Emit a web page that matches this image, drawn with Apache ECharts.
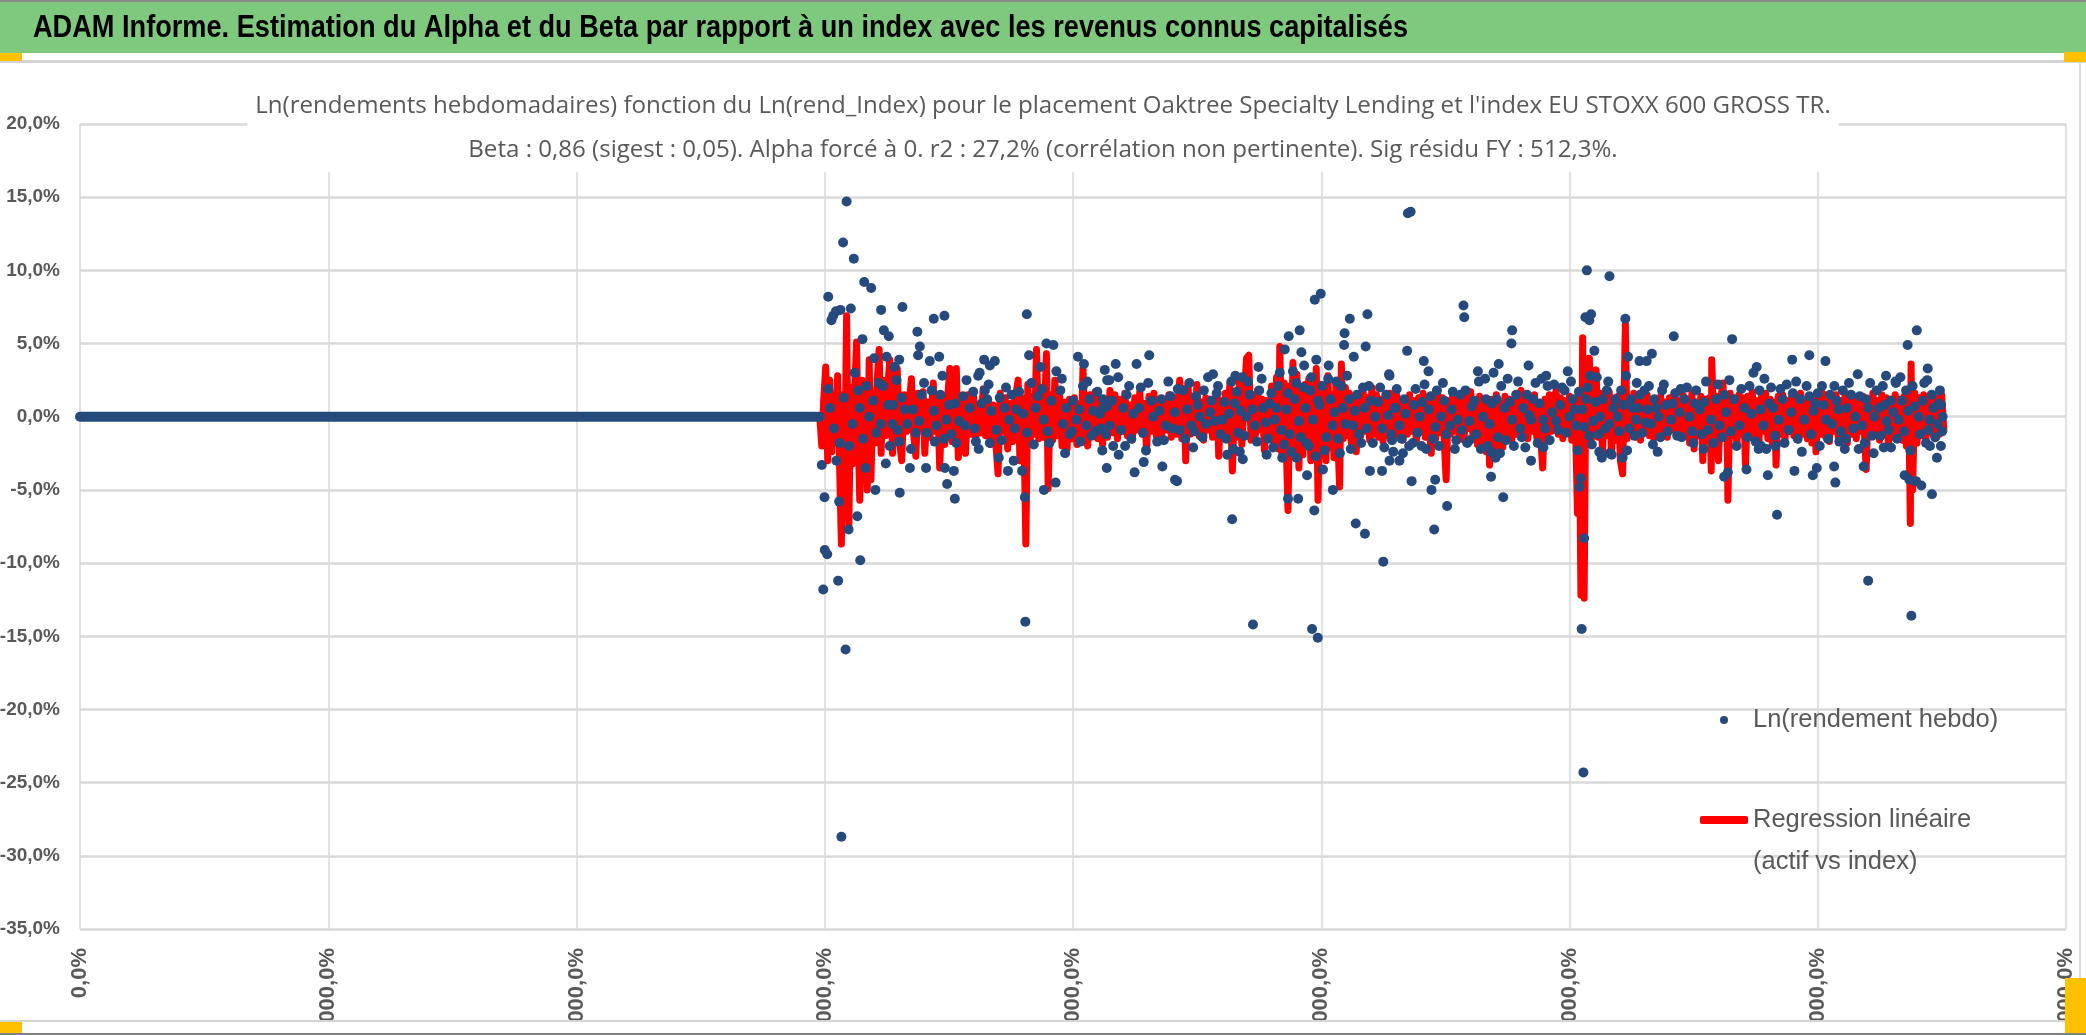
<!DOCTYPE html>
<html>
<head>
<meta charset="utf-8">
<script src="https://cdn.jsdelivr.net/npm/echarts@6/dist/echarts.min.js"></script>
<style>
  html, body { margin: 0; padding: 0; background: #fff; }
  #chart { width: 2086px; height: 1035px; }
</style>
</head>
<body>
<div id="chart"></div>
<script>
const SANS = "'Liberation Sans', Arial, sans-serif"
const OPEN = "'Open Sans', 'Noto Sans', sans-serif"

const headerText = 'ADAM Informe. Estimation du Alpha et du Beta par rapport à un index avec les revenus connus capitalisés'
const titleLines = [
  "Ln(rendements hebdomadaires) fonction du Ln(rend_Index) pour le placement Oaktree Specialty Lending et l'index EU STOXX 600 GROSS TR.",
  'Beta : 0,86 (sigest : 0,05). Alpha forcé à 0. r2 : 27,2% (corrélation non pertinente). Sig résidu FY : 512,3%.'
]
const scatterName = 'Ln(rendement hebdo)'
const lineName = 'Regression linéaire\n(actif vs index)'

// x tick labels (one per vertical gridline)
const xTickLabels = ['0,0%', '1000000,0%', '2000000,0%', '3000000,0%', '4000000,0%',
  '5000000,0%', '6000000,0%', '7000000,0%', '8000000,0%']

// weeks without data sit on 0
const flatRun = [[0, 0], [298, 0]]

// Ln(rendement hebdo) points, [x, y%]
const weeklyLnReturns = [
  [298.8,-3.3],[299.9,-5.5],[304.7,-3.0],[305.8,-5.8],[300.0,-9.1],[301.0,-9.4],[299.4,-11.8],[305.4,-11.2],[314.3,-9.8],[308.4,-15.9],
  [306.7,-28.7],[309.6,-7.7],[313.1,-6.8],[316.4,-3.5],[320.4,-5.0],[330.2,-5.2],[324.6,-3.2],[334.3,-3.5],[340.8,-3.5],[349.3,-4.6],
  [352.4,-5.6],[348.4,-3.5],[352.0,-3.7],[362.0,-2.2],[366.5,-1.8],[370.1,-2.8],[373.8,-3.7],[376.1,-3.0],[379.5,-3.7],[380.6,-5.5],
  [380.8,-14.0],[388.3,-5.0],[393.0,-4.5],[396.8,-2.5],[411.8,-2.3],[413.6,-3.5],
  [308.8,14.7],[307.4,11.9],[311.7,10.8],[315.9,9.2],[318.7,8.8],[301.4,8.2],[302.7,6.6],[303.4,6.9],[304.5,7.2],[306.3,7.3],
  [310.5,7.4],[322.7,7.3],[331.3,7.5],[381.4,7.0],[382.3,4.2],[389.3,5.0],[392.1,4.9],[364.2,3.9],[368.5,3.8],[362.4,3.0],
  [366.5,3.5],[402.0,4.1],[404.4,3.6],[412.8,3.2],[413.8,2.5],[319.9,4.0],[324.9,4.1],[330.0,3.9],[328.1,3.4],[323.8,5.9],
  [325.8,5.5],[315.2,5.3],[337.3,5.8],[338.3,4.8],[343.9,6.7],[348.2,6.9],[346.1,4.1],[342.3,3.8],[337.6,4.2],
  [301.4,1.9],[307.7,1.3],[303.7,-0.8],[311.2,-0.5],[309.8,-2.0],[313.5,1.8],[312.1,3.0],[317.9,0.0],[319.5,1.1],[320.8,-1.1],
  [322.5,-0.5],[321.8,2.3],[323.5,2.1],[325.5,0.8],[327.3,-0.5],[328.9,2.5],[327.6,0.8],[326.2,-2.0],[330.0,-1.7],[332.2,0.5],
  [333.2,-0.5],[334.7,-2.2],[336.7,-1.1],[335.6,0.5],[339.0,1.5],[340.0,2.3],[341.2,-1.1],[343.0,1.8],[344.3,-1.7],[345.0,-0.6],
  [347.4,2.8],[346.6,1.5],[348.1,-1.5],[349.0,-0.2],[350.1,0.8],[351.0,-1.2],[353.0,-1.8],[354.1,-0.3],[355.7,1.4],[357.1,2.5],
  [358.4,0.6],[359.8,1.7],[360.4,-0.8],[361.8,2.8],[363.1,0.9],[364.5,1.8],[365.4,1.2],[367.1,0.4],[369.2,-0.9],[370.5,1.3],
  [372.5,0.6],[374.3,-0.2],[375.2,1.5],[377.2,0.5],[378.3,1.7],[379.9,0.2],[383.2,2.3],[385.0,0.6],[385.9,1.4],[386.9,3.4],
  [388.2,-0.2],[389.8,-1.0],[391.3,1.1],[393.3,3.1],[394.9,1.8],[396.0,-0.5],[397.3,0.6],[398.7,-1.2],[400.0,1.1],[401.4,-0.2],
  [403.0,-1.7],[404.0,2.1],[405.4,-0.6],[406.7,1.2],[408.1,0.4],[409.1,-1.0],[410.8,0.2],[412.1,1.2],[413.7,0.7],
  [302.1,0.6],[306.1,-1.8],[314.1,0.6],[315.5,-1.5],[316.8,2.1],[329.4,-0.9],[331.0,1.3],[338.0,-0.3],[344.0,0.4],[352.5,0.9],
  [356.5,-0.6],[360.9,-1.7],[366.0,2.2],[371.3,-1.6],[373.0,2.0],[376.5,-0.8],[381.5,-1.1],[384.2,-1.9],[387.5,1.9],[390.5,-1.8],
  [395.5,2.6],[399.5,-1.0],[402.5,0.5],[405.8,2.4],[407.5,-1.3],[409.8,1.7],[411.2,-0.8],
  [417.2,3.6],[425.6,3.6],[430.7,4.2],[497.4,8.0],[499.8,8.4],[511.5,6.7],[518.6,7.0],[509.2,4.9],[509.4,5.7],[486.9,5.5],
  [491.3,5.9],[485.3,4.6],[492.0,4.4],[488.6,3.1],[493.1,3.5],[498.0,3.9],[503.0,3.5],[513.1,4.1],[517.9,4.8],[527.3,2.9],
  [474.7,3.4],[456.4,2.9],[465.4,2.8],[414.6,2.5],
  [424.8,-3.8],[436.0,-3.4],[441.1,-4.3],[441.9,-4.4],[464.1,-7.0],[472.5,-14.2],[496.3,-14.5],[498.6,-15.1],[486.6,-5.6],[490.7,-5.6],
  [497.2,-6.4],[504.7,-5.0],[513.9,-7.3],[517.6,-8.0],[525.0,-9.9],[519.6,-3.7],[524.5,-3.7],[494.3,-4.0],[500.7,-3.6],[478.0,-2.6],
  [484.3,-2.8],[490.0,-2.8],[468.4,-2.9],[462.1,-2.6],[418.4,-2.6],[416.2,-2.0],[421.0,-2.0],[428.5,-3.1],[448.4,-2.1],[452.1,-1.4],
  [467.2,-2.4],
  [412.1,0.6],[414.8,-0.6],[418.2,2.7],[420.2,0.6],[422.6,2.1],[423.5,-1.5],[426.6,0.6],[428.2,-1.1],[430.3,2.3],[432.3,0.0],
  [433.9,-1.7],[435.6,1.2],[437.4,-0.6],[439.3,1.4],[441.0,0.3],[443.0,-0.9],[444.4,1.8],[446.0,0.5],[447.7,-0.6],[449.5,1.4],
  [451.1,0.0],[452.7,1.8],[454.4,2.7],[455.8,1.1],[457.1,-0.3],[458.4,2.1],[460.2,-0.2],[461.8,-1.5],[463.8,2.4],[465.2,0.9],
  [466.5,-1.1],[468.2,2.7],[469.9,0.0],[471.2,1.5],[473.2,-0.6],[475.0,1.8],[476.6,0.6],[478.6,-1.5],[479.9,1.6],[481.3,-0.2],
  [482.6,2.1],[483.9,-0.9],[486.0,0.5],[487.3,-1.2],[489.3,1.2],[491.0,-0.3],[492.9,2.0],[494.0,-1.8],[495.6,1.8],[496.7,-0.2],
  [498.7,1.1],[500.4,2.1],[502.1,-1.4],[503.7,1.2],[505.4,0.3],[506.8,-1.5],[508.1,2.1],[509.8,-0.5],[511.2,1.2],[512.8,-0.6],
  [514.4,1.5],[516.1,-1.8],[517.5,0.6],[519.2,2.1],[520.8,-1.8],[522.9,1.0],[524.6,-0.8],[526.2,1.5],[528.2,-1.2],[530.0,0.6],
  [413.3,-1.2],[415.7,1.1],[419.4,-0.9],[421.6,1.5],[424.3,0.2],[427.3,2.0],[429.4,-2.3],[431.6,1.1],[434.8,0.4],[436.6,-1.6],
  [438.4,2.4],[440.1,-0.8],[442.2,1.9],[445.2,-1.5],[446.9,2.3],[448.9,-1.0],[450.3,0.8],[453.5,-0.5],[455.2,0.3],[457.9,1.6],
  [459.4,-1.2],[461.0,1.0],[462.9,0.2],[464.6,-2.2],[466.0,1.7],[467.5,0.4],[469.1,-1.3],[470.5,2.4],[472.3,0.5],[474.1,-1.7],
  [476.0,2.6],[477.6,-0.4],[479.2,0.9],[480.6,-2.1],[482.0,0.6],[483.3,3.0],[485.0,-1.9],[486.5,1.6],[488.0,-2.4],[489.9,2.3],
  [491.7,-1.4],[493.6,0.6],[495.0,-2.0],[496.0,2.7],[497.8,-2.7],[499.3,0.8],[501.4,-2.3],[502.8,2.6],[504.5,-0.6],[506.1,2.4],
  [507.5,-2.5],[508.8,0.6],[510.4,2.8],[511.9,-2.2],[513.5,0.4],[515.2,-1.2],[516.8,2.0],[518.3,-0.8],[520.0,1.1],[521.8,0.0],
  [523.7,2.0],[525.4,-2.1],[527.0,0.1],[529.0,-2.4],
  [534.9,13.9],[536.0,14.0],[557.3,7.6],[557.6,6.8],[576.9,5.9],[576.6,5.0],[534.6,4.5],[607.0,10.0],[616.1,9.6],[606.4,6.8],
  [608.0,6.6],[608.7,7.0],[622.5,6.7],[642.0,5.5],[610.0,4.5],[623.6,4.1],[633.2,4.3],[628.2,3.8],[631.1,3.8],[541.3,3.8],
  [543.2,3.1],[563.1,3.1],[571.5,3.6],[583.5,3.5],[590.6,2.8],[599.3,3.1],[627.1,2.3],[527.5,2.8],
  [536.4,-4.4],[544.4,-5.0],[545.9,-4.3],[545.5,-7.7],[550.7,-6.1],[568.4,-4.1],[573.3,-5.5],[604.9,-14.5],[605.6,-24.3],[605.9,-8.3],
  [604.0,-4.8],[604.5,-4.2],[603.3,-2.3],[584.5,-3.0],[589.5,-2.1],[635.5,-2.4],[527.5,-3.0],[531.5,-3.0],[532.9,-2.5],[536.9,-1.8],
  [540.4,-2.0],[553.8,-2.2],[568.4,-2.4],[570.2,-2.8],[612.0,-2.4],[616.1,-2.5],[621.4,-2.8],[608.0,-1.3],[559.7,-1.6],
  [529.5,0.6],[531.5,-0.6],[533.5,1.2],[538.0,1.9],[539.6,0.0],[541.6,2.2],[543.3,0.5],[545.0,-1.5],[546.6,1.8],[548.3,0.0],
  [549.6,1.1],[551.9,-0.6],[553.0,1.7],[555.0,-0.2],[556.0,1.5],[558.1,1.8],[559.7,-0.3],[561.7,1.1],[563.5,2.4],[565.1,0.0],
  [566.4,1.2],[567.8,-0.5],[569.4,3.0],[570.7,1.2],[572.5,2.1],[573.8,0.6],[575.1,2.6],[576.9,-0.2],[578.5,1.5],[580.1,-0.8],
  [581.4,0.6],[582.9,1.5],[584.5,-0.2],[586.3,2.3],[587.9,0.9],[589.5,-0.2],[591.2,2.1],[593.0,0.3],[594.6,-0.3],[596.2,0.8],
  [598.0,1.8],[600.0,0.0],[601.3,1.2],[602.7,-0.6],[605.1,0.5],[606.7,1.2],[608.3,2.8],[609.6,-0.3],[611.0,2.7],[612.3,0.0],
  [613.4,1.2],[615.0,1.8],[616.1,-0.5],[617.7,0.6],[619.4,0.0],[620.8,1.8],[622.8,2.8],[624.1,-0.8],[625.5,0.6],[626.8,-0.2],
  [628.4,1.5],[630.2,1.8],[631.5,0.5],[632.8,-0.5],[634.2,1.2],[635.9,0.0],[637.3,1.8],[638.9,0.8],[640.9,-0.2],[642.6,1.6],
  [644.3,0.3],
  [528.5,-1.6],[530.4,1.9],[532.4,-1.5],[534.0,0.2],[535.4,-2.0],[537.3,0.8],[538.8,-1.1],[540.7,1.0],[542.3,-2.2],[544.1,1.4],
  [546.0,-0.7],[547.5,-2.0],[549.0,2.3],[550.4,-1.2],[552.5,0.5],[554.4,-1.6],[556.6,-0.9],[558.8,-1.8],[560.6,0.7],[562.4,-1.2],
  [564.3,-2.2],[566.0,2.6],[567.0,-2.0],[568.8,0.9],[571.2,-1.4],[572.0,-2.5],[574.4,-1.6],[575.9,1.0],[577.6,-2.0],[579.3,2.4],
  [580.8,-1.4],[582.2,-2.1],[583.8,0.1],[585.4,1.2],[587.2,-1.8],[588.7,2.6],[590.2,-0.8],[592.0,-1.6],[593.8,2.2],[595.4,-0.9],
  [597.0,2.0],[598.8,-1.1],[600.6,2.4],[602.0,0.5],[603.8,1.7],[606.0,-0.7],[607.3,2.0],[609.0,-1.9],[610.5,1.0],[611.8,-1.2],
  [613.0,-2.8],[614.4,-0.8],[615.6,2.4],[617.0,-2.6],[618.5,1.2],[620.0,-1.0],[621.8,0.8],[623.2,-2.3],[624.8,1.2],[626.1,-1.3],
  [627.6,0.6],[629.3,-1.1],[630.7,-0.4],[632.0,2.1],[633.6,-1.9],[635.0,0.6],[636.6,-1.4],[638.0,2.2],[639.6,-1.0],[641.6,0.9],
  [643.4,-1.3],
  [665.5,5.3],[689.7,3.9],[696.6,4.2],[703.1,3.8],[736.2,4.9],[739.9,5.9],[744.3,3.3],[744.1,2.5],[716.1,2.9],[675.4,3.4],
  [678.5,2.6],[727.5,2.8],[731.5,2.3],[644.8,1.9],[749.2,1.8],
  [683.6,-6.7],[720.3,-11.2],[737.7,-13.6],[746.0,-5.3],[748.0,-2.8],[749.6,-2.0],[735.0,-4.0],[736.9,-4.3],[739.6,-4.4],[741.7,-4.7],
  [662.3,-4.1],[663.8,-3.8],[671.3,-3.6],[679.9,-4.0],[690.6,-3.7],[698.0,-4.0],[699.6,-3.5],[706.6,-3.4],[707.1,-4.5],[718.5,-3.4],
  [654.0,-2.2],[649.4,-1.0],[683.0,-2.0],[676.2,-2.2],[677.2,-2.0],[708.7,-1.7],[711.4,-1.5],[716.5,-2.2],[722.5,-2.5],[726.6,-2.1],
  [729.5,-2.1],[743.6,-1.8],[745.2,-2.0],
  [646.3,1.2],[648.3,0.0],[651.0,1.8],[652.4,0.5],[655.0,2.4],[657.0,-0.2],[659.1,1.2],[660.4,-0.6],[662.4,1.5],[664.4,2.5],
  [666.4,1.2],[668.5,-0.6],[670.5,0.6],[672.5,2.1],[674.1,3.0],[676.5,1.8],[678.1,-0.6],[680.5,0.9],[682.1,0.6],[684.3,-0.2],
  [685.9,1.2],[687.5,2.2],[689.3,0.3],[691.3,2.4],[692.9,1.2],[694.6,-0.2],[696.6,1.4],[698.3,0.4],[700.0,1.6],[701.7,2.1],
  [703.3,-0.2],[705.0,1.5],[706.7,2.1],[708.4,0.5],[710.1,1.8],[711.7,0.6],[713.4,1.5],[715.2,0.0],[717.8,-0.6],[719.5,1.2],
  [721.1,2.3],[722.8,0.0],[724.6,0.6],[726.2,2.1],[727.8,-0.3],[729.4,1.1],[731.3,2.4],[732.6,-0.2],[734.0,1.1],[735.6,1.8],
  [738.2,2.1],[740.7,0.0],[742.3,1.1],[745.0,-0.2],[746.6,0.6],[748.3,-0.5],[750.3,0.0],
  [645.2,-1.4],[647.3,2.0],[649.9,-1.8],[650.5,0.9],[653.2,-1.2],[654.3,1.0],[655.8,-0.9],[658.0,-1.8],[659.8,2.2],[661.5,-1.4],
  [663.1,0.3],[665.0,-1.0],[667.3,-2.0],[669.2,1.9],[671.7,-1.4],[673.3,0.2],[675.0,-1.7],[677.0,0.5],[679.3,-2.2],[681.2,2.0],
  [682.8,-1.3],[685.0,1.9],[686.6,-1.8],[688.3,-0.9],[690.0,1.6],[691.9,-1.5],[693.6,-2.4],[695.5,2.1],[697.3,-1.2],[699.0,0.9],
  [700.8,-2.0],[702.4,0.8],[704.1,-1.5],[705.8,-0.5],[707.6,1.1],[709.3,-1.0],[710.9,-2.2],[712.6,2.3],[714.3,-0.8],[716.9,1.4],
  [718.9,-1.8],[720.3,0.6],[721.9,-1.3],[723.7,1.8],[725.4,-1.3],[727.0,0.8],[728.6,-0.9],[730.4,0.3],[732.0,-1.5],[733.3,2.7],
  [734.8,-1.0],[736.4,0.4],[737.3,-2.3],[739.0,0.7],[741.2,-1.2],[742.9,2.3],[744.5,-0.9],[745.9,1.5],[747.3,-1.4],[748.8,0.9],
  [750.1,-1.0],[749.7,0.8]
]

// Regression line (beta x index return), [x, y%], in x order
const regressionLine = [
  [298.0,0],[298.8,-2.0],[299.6,1.2],[300.4,3.4],[301.2,-3.0],[302.0,2.5],[302.8,-2.4],[303.6,1.5],[304.4,-1.8],[305.2,2.8],
  [306.0,-3.5],[306.7,-8.7],[307.5,1.5],[308.2,-2.0],[308.8,6.9],[309.7,-7.5],[310.5,2.0],[311.3,-3.2],[312.0,1.4],[312.8,5.1],
  [313.5,-1.5],[314.1,-5.7],[315.0,2.5],[315.8,-1.2],[316.5,1.8],[317.1,-5.0],[317.9,3.9],[318.6,-4.3],[319.4,1.0],[320.2,-1.8],
  [321.0,2.1],[321.9,4.6],[322.7,-2.5],[323.5,2.5],[324.4,-1.3],[325.2,1.6],[326.2,3.9],[327.3,-2.5],[328.2,1.2],[329.2,3.3],
  [330.1,-1.6],[331.0,-3.0],[332.0,1.5],[333.0,-1.0],[334.0,0.8],[334.9,2.6],[335.8,-1.2],[336.7,-2.7],[337.7,1.6],[338.7,-0.8],
  [339.6,1.7],[340.3,-2.5],[341.3,1.0],[342.4,-1.4],[343.7,2.3],[344.6,-1.0],[345.5,1.2],[346.3,-3.5],[347.3,1.3],[348.3,-1.9],
  [349.3,0.9],[350.4,3.3],[351.3,-1.7],[352.2,1.1],[353.0,3.3],[353.8,-2.8],[354.8,1.4],[355.8,-0.9],[356.7,-2.5],[357.7,1.5],
  [358.7,-1.2],[359.8,1.8],[360.8,-1.6],[361.8,0.7],[362.8,-1.1],[363.8,1.9],[364.8,-1.3],[365.8,1.2],[366.8,-1.9],[367.8,0.8],
  [368.8,-1.5],[369.8,-3.9],[370.7,1.6],[371.7,-1.0],[372.7,1.3],[373.7,-2.2],[374.7,0.9],[375.7,-1.7],[376.7,1.2],[377.9,2.5],
  [378.6,-3.0],[379.5,1.3],[380.3,-1.5],[381.0,-8.7],[381.8,2.2],[382.7,-1.8],[383.6,1.4],[384.5,-1.2],[385.3,4.6],[386.2,-1.5],
  [387.1,2.0],[388.0,-1.4],[388.7,1.2],[389.3,4.3],[390.0,-4.9],[390.9,1.5],[391.8,-1.6],[392.7,2.5],[393.6,-1.3],[394.6,1.4],
  [395.6,-2.0],[396.6,1.0],[397.6,-2.2],[398.6,1.2],[399.6,-1.5],[400.6,1.3],[401.6,-1.9],[402.6,0.9],[403.4,-1.7],[404.0,3.3],
  [404.9,-1.4],[405.9,-2.0],[406.9,1.5],[407.9,-1.2],[408.9,1.7],[409.9,-1.5],[410.9,1.2],[411.9,-1.9],[412.9,1.0],
  [413.9,-1.4],[414.9,1.8],[415.9,-1.1],[416.9,1.5],[417.9,-1.5],[418.9,1.2],[419.9,-1.0],[420.9,1.6],[421.9,-1.3],[422.9,0.8],
  [423.9,-1.6],[424.9,1.3],[425.9,-0.9],[426.9,1.7],[427.9,-1.2],[428.9,0.9],[429.6,-2.4],[430.6,1.4],[431.6,-1.0],[432.6,1.6],
  [433.6,-1.3],[434.6,0.9],[435.6,-1.6],[436.6,1.2],[437.6,-0.9],[438.6,1.5],[439.6,-1.4],[440.6,1.1],[441.6,-1.2],[442.3,1.0],
  [443.0,2.5],[443.8,-1.5],[444.6,1.9],[445.4,-3.0],[446.3,2.3],[447.2,-1.2],[448.1,1.4],[449.0,-1.0],[449.9,2.2],[450.8,-1.3],
  [451.7,1.0],[452.6,-1.6],[453.5,1.3],[454.4,-0.9],[455.3,1.2],[456.2,-1.4],[457.1,0.8],[458.0,1.4],[458.7,-2.7],[459.6,1.1],
  [460.5,-1.3],[461.4,1.6],[462.3,-1.1],[463.2,2.3],[464.2,-3.7],[465.1,1.2],[466.0,-1.4],[467.0,2.4],[468.0,-1.9],[469.0,1.3],
  [469.9,4.0],[470.8,4.2],[471.7,-1.6],[472.6,1.5],[473.5,-1.2],[474.4,1.8],[475.3,-0.9],[476.2,1.2],[477.1,-2.3],[478.0,1.1],
  [479.0,-1.5],[480.0,2.1],[481.0,-1.8],[482.0,2.7],[482.8,-2.2],[483.3,4.8],[484.2,-2.7],[485.1,2.3],[485.9,-2.0],[486.6,-6.4],
  [487.4,2.1],[488.0,-1.7],[488.6,3.7],[489.4,-2.0],[490.2,2.9],[491.0,-3.5],[491.8,1.7],[492.6,-2.6],[493.4,2.2],[494.2,-1.8],
  [495.0,2.6],[495.8,-3.0],[496.6,1.6],[497.4,-2.4],[498.0,3.3],[498.7,-5.7],[499.5,2.2],[500.3,-2.6],[501.1,1.6],[501.9,-3.0],
  [502.7,2.8],[503.5,-2.1],[504.3,1.5],[505.1,-2.8],[505.9,2.2],[506.7,-1.6],[507.4,-4.8],[508.1,3.6],[508.9,-1.5],[509.7,2.0],
  [510.5,-1.3],[511.3,1.6],[512.1,-1.8],[512.9,1.2],[513.7,-1.1],[514.1,-2.4],[515.0,1.5],[515.9,-1.3],[516.8,1.9],[517.7,-1.0],
  [518.6,1.3],[519.5,-1.6],[520.4,2.0],[521.3,-1.2],[522.2,1.5],[523.1,-1.4],[524.0,1.2],[524.9,-1.7],[525.8,1.0],[526.7,-1.3],
  [527.6,1.6],[528.5,-1.2],
  [529.4,1.0],[530.2,1.8],[531.1,-1.3],[532.0,1.2],[532.9,-1.6],[533.8,0.9],[534.7,-1.2],[535.6,1.5],[536.5,-1.0],[537.4,1.1],
  [538.3,-1.7],[539.2,1.3],[540.1,-0.9],[541.0,1.6],[541.9,-1.4],[542.8,1.0],[543.7,-1.2],[544.3,-2.5],[545.2,1.2],[546.1,-1.5],
  [547.0,1.5],[547.9,-1.1],[548.8,1.3],[549.6,-1.8],[550.3,-4.3],[551.2,1.1],[552.1,-1.2],[553.0,1.6],[553.9,-1.0],[554.8,1.2],
  [555.7,-1.5],[556.6,1.0],[557.5,-1.6],[558.4,1.3],[559.3,-0.8],[560.2,1.7],[561.1,-1.3],[562.0,1.1],[562.9,-1.9],[563.8,1.4],
  [564.7,-2.1],[565.6,1.2],[566.5,-2.4],[567.2,1.0],[567.8,-3.3],[568.7,1.2],[569.6,-2.6],[570.5,1.5],[571.4,-2.2],[572.3,0.9],
  [573.1,-2.1],[574.0,1.4],[574.9,-1.1],[575.8,1.2],[576.7,-1.6],[577.6,1.0],[578.5,-1.2],[579.4,1.4],[580.5,1.8],[581.4,-1.2],
  [582.3,1.0],[583.2,-1.5],[584.1,1.3],[585.0,-1.0],[585.9,1.5],[586.8,-1.4],[587.7,0.9],[588.5,-1.7],[589.2,-3.5],[590.1,1.2],
  [591.0,-1.3],[591.9,1.5],[592.8,-1.0],[593.7,1.1],[594.6,1.8],[595.5,-1.2],[596.4,1.3],[597.3,-1.5],[598.2,1.1],[599.1,-1.0],
  [600.0,1.4],[600.9,-1.6],[601.8,0.9],[602.6,-1.8],[603.2,-6.6],[603.9,1.5],[604.6,-12.2],[605.3,5.4],[605.9,-12.4],[606.6,3.2],
  [607.3,-1.5],[608.0,4.0],[608.8,-1.6],[609.6,2.0],[610.7,3.2],[611.5,-1.4],[612.4,1.6],[613.3,-2.4],[614.2,1.5],[615.1,-1.3],
  [616.0,1.7],[616.9,-2.5],[617.8,1.2],[618.7,-1.6],[619.6,1.4],[620.5,-3.0],[621.4,-3.9],[622.0,1.5],[622.5,6.3],[623.2,-1.5],
  [624.1,1.3],[625.0,-1.2],[625.9,1.6],[626.8,-1.4],[627.7,1.2],[628.6,-1.6],[629.5,1.0],[630.4,-1.1],[631.3,1.5],[632.2,-1.3],
  [633.1,0.8],[634.0,-1.5],[634.9,1.2],[635.8,-1.0],[636.7,1.4],[637.6,-1.2],[638.5,1.0],[639.4,-1.4],[640.3,1.3],[641.2,-0.9],
  [642.1,1.6],[643.0,-1.3],[643.9,1.1],
  [644.8,-1.4],[645.7,1.5],[646.6,-1.1],[647.5,1.2],[648.4,-1.8],[649.3,1.6],[650.2,-2.2],[651.1,1.0],[652.0,-1.3],[652.9,1.4],
  [653.7,-3.0],[654.6,1.2],[655.5,-1.6],[656.4,1.3],[657.1,-3.7],[657.3,3.9],[658.2,-1.2],[659.1,1.4],[660.0,-3.0],[660.9,1.1],
  [661.8,2.3],[662.7,-1.5],[663.4,1.3],[663.8,-5.7],[664.7,1.6],[665.6,-1.3],[666.5,1.2],[667.4,-2.0],[668.3,1.5],[669.2,-1.2],
  [670.1,1.3],[670.9,-3.3],[671.8,1.4],[672.7,-1.1],[673.6,1.7],[674.5,-1.4],[675.4,1.1],[676.3,-1.8],[677.2,1.3],[678.1,-1.0],
  [679.0,1.6],[679.9,-1.5],[680.8,1.2],[681.7,-1.9],[682.6,1.0],[683.2,-3.3],[684.1,1.4],[685.0,-1.2],[685.9,1.5],[686.8,-1.6],
  [687.7,1.1],[688.6,-1.0],[689.5,1.4],[690.4,-1.3],[691.3,1.2],[692.2,-1.6],[693.1,1.6],[694.0,-1.2],[694.9,1.0],[695.8,-1.5],
  [696.7,1.3],[697.6,-1.8],[698.5,1.1],[699.3,-2.4],[700.2,1.4],[701.1,-1.2],[702.0,1.6],[702.9,-1.3],[703.8,1.0],[704.7,-1.7],
  [705.6,1.3],[706.5,-1.0],[707.4,1.5],[708.3,-1.5],[709.2,1.1],[710.1,-1.3],[711.0,1.4],[711.9,-1.8],[712.8,1.0],[713.7,-1.2],
  [714.6,1.3],[715.5,-1.5],[716.4,1.2],[717.3,-1.0],[718.2,1.4],[719.0,-1.8],[719.5,-3.6],[720.4,1.0],[721.3,-1.3],[722.2,1.6],
  [723.1,-1.2],[724.0,1.1],[724.9,-1.6],[725.8,1.5],[726.7,-1.1],[727.6,1.3],[728.5,-1.9],[729.4,1.2],[730.3,-1.4],[731.2,1.5],
  [732.1,-1.0],[733.0,1.2],[733.9,-1.6],[734.8,1.4],[735.7,-2.0],[736.6,1.8],[737.3,-7.3],[737.6,3.6],[738.2,-5.0],[739.1,1.6],
  [740.0,-1.8],[740.9,1.3],[741.8,-1.3],[742.7,1.5],[743.6,-1.6],[744.5,1.2],[745.4,-1.1],[746.3,1.4],[747.2,-1.5],[748.1,1.3],
  [749.0,-1.2],[749.9,1.5],[750.8,-0.9]
]

const BLUE = '#264a7e'
const RED = '#ff0000'
const GREY_TXT = '#595959'
const GRID_COLOR = '#d9d9d9'

const pct = (v) => v.toFixed(1).replace('.', ',') + '%'

// squeeze the header so it spans the same width as the original banner
const headerFont = 'bold 32px ' + SANS
const measureCtx = document.createElement('canvas').getContext('2d')
measureCtx.font = headerFont
const headerScale = 1375 / measureCtx.measureText(headerText).width

const chart = echarts.init(document.getElementById('chart'), null, { renderer: 'canvas' })

const option = {
  animation: false,
  backgroundColor: '#ffffff',
  title: {
    text: titleLines.join('\n'),
    left: 'center',
    top: 84,
    padding: [0, 8, 0, 8],
    backgroundColor: '#ffffff',
    textStyle: {
      fontFamily: OPEN,
      fontSize: 24.1,
      fontWeight: 'normal',
      color: GREY_TXT,
      lineHeight: 44
    }
  },
  legend: [
    {
      data: [{ name: scatterName, icon: 'circle' }],
      left: 1720,
      top: 702,
      padding: 0,
      itemWidth: 48,
      itemHeight: 8,
      selectedMode: false,
      textStyle: { fontFamily: SANS, fontSize: 25.5, color: GREY_TXT, lineHeight: 36 }
    },
    {
      data: [{ name: lineName, icon: 'roundRect' }],
      left: 1700,
      top: 757,
      padding: 0,
      itemWidth: 48,
      itemHeight: 8,
      selectedMode: false,
      formatter: (name) => ' \n' + name,
      textStyle: { fontFamily: SANS, fontSize: 25.5, color: GREY_TXT, lineHeight: 42 }
    }
  ],
  grid: { left: 80, right: 20, top: 124, bottom: 106, containLabel: false, outerBoundsMode: 'none' },
  xAxis: {
    type: 'value',
    min: 0,
    max: 800,
    interval: 100,
    axisLine: { show: false },
    axisTick: { show: false },
    splitLine: { show: true, lineStyle: { color: GRID_COLOR, width: 1.5 } },
    axisLabel: {
      rotate: 90,
      margin: 19,
      fontFamily: SANS,
      fontSize: 22,
      fontWeight: 'bold',
      color: GREY_TXT,
      formatter: (v) => xTickLabels[Math.round(v / 100)]
    }
  },
  yAxis: {
    type: 'value',
    min: -35,
    max: 20,
    interval: 5,
    axisLine: { show: false },
    axisTick: { show: false },
    splitLine: { show: true, lineStyle: { color: GRID_COLOR, width: 2.5 } },
    axisLabel: {
      margin: 20,
      fontFamily: SANS,
      fontSize: 19,
      fontWeight: 'bold',
      color: GREY_TXT,
      formatter: (v) => pct(v)
    }
  },
  series: [
    {
      name: scatterName,
      type: 'scatter',
      data: weeklyLnReturns,
      symbolSize: 10,
      color: BLUE,
      itemStyle: { color: BLUE, opacity: 1 },
      z: 4
    },
    {
      name: lineName,
      type: 'line',
      data: regressionLine,
      showSymbol: false,
      symbol: 'none',
      color: RED,
      lineStyle: { color: RED, width: 7, join: 'round', cap: 'round' },
      z: 2
    },
    {
      name: scatterName,
      type: 'line',
      data: flatRun,
      showSymbol: false,
      symbol: 'none',
      color: BLUE,
      lineStyle: { color: BLUE, width: 10, cap: 'round' },
      z: 3
    }
  ],
  graphic: [
    { type: 'rect', z: 100, shape: { x: 0, y: 0, width: 2086, height: 53 }, style: { fill: '#7fc97f' } },
    { type: 'rect', z: 101, shape: { x: 0, y: 0, width: 2086, height: 2 }, style: { fill: '#8a8a8a' } },
    {
      type: 'text', z: 102, x: 33, y: 28, scaleX: headerScale,
      style: { text: headerText, fill: '#000000', font: headerFont, verticalAlign: 'middle', align: 'left' }
    },
    { type: 'rect', z: 100, shape: { x: 0, y: 60, width: 2086, height: 3 }, style: { fill: '#d4d4d4' } },
    { type: 'rect', z: 101, shape: { x: 0, y: 53, width: 22, height: 8 }, style: { fill: '#ffc000' } },
    { type: 'rect', z: 101, shape: { x: 2064, y: 52, width: 22, height: 10 }, style: { fill: '#ffc000' } },
    { type: 'rect', z: 100, shape: { x: 2079, y: 62, width: 2, height: 960 }, style: { fill: '#dcdcdc' } },
    { type: 'rect', z: 100, shape: { x: 0, y: 1022, width: 2086, height: 13 }, style: { fill: '#ffffff' } },
    { type: 'rect', z: 101, shape: { x: 0, y: 1020, width: 2086, height: 2 }, style: { fill: '#d4d4d4' } },
    { type: 'rect', z: 101, shape: { x: 0, y: 1033, width: 2086, height: 2 }, style: { fill: '#808080' } },
    { type: 'rect', z: 102, shape: { x: 0, y: 1022, width: 22, height: 11 }, style: { fill: '#ffc000' } },
    { type: 'rect', z: 102, shape: { x: 2065, y: 978, width: 21, height: 55 }, style: { fill: '#ffc000' } }
  ]
}

chart.setOption(option)
</script>
</body>
</html>
